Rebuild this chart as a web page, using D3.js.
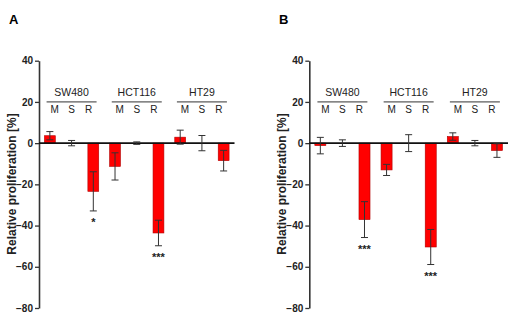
<!DOCTYPE html>
<html>
<head>
<meta charset="utf-8">
<script src="https://d3js.org/d3.v7.min.js"></script>
<style>
  body { margin: 0; background: #fff; }
  text { font-family: Arial, "Liberation Sans", sans-serif; }
</style>
</head>
<body>
<svg id="drawing_region"></svg>
<script>
const cellLines = ['SW480', 'HCT116', 'HT29'];
const treatments = ['M', 'S', 'R'];
const yTicks = [40, 20, 0, -20, -40, -60, -80];

// panel A
const meanA = [3.6, 0, -23.4, -11.3, 0, -43.6, 2.9, 0, -8.5];
const errA  = [2.0, 1.3, 9.5, 6.6, 0.6, 6.2, 3.4, 3.7, 5.0];
const starsA = ['', '', '*', '', '', '***', '', '', ''];

// panel B
const meanB = [-1.2, 0, -37.1, -13.0, 0, -50.4, 3.2, 0, -3.6];
const errB  = [4.0, 1.6, 8.7, 2.7, 4.1, 8.5, 1.8, 1.3, 3.3];
const starsB = ['', '', '***', '', '', '***', '', '', ''];

const svg = d3.select('#drawing_region')
    .attr('width', 521)
    .attr('height', 336);

class BarPanel {
    constructor(config, means, errs, stars) {
        this.config = config;
        this.data = means.map((m, i) => ({
            key: cellLines[Math.floor(i / 3)] + '_' + treatments[i % 3],
            line: cellLines[Math.floor(i / 3)],
            treat: treatments[i % 3],
            mean: m,
            err: errs[i],
            star: stars[i]
        }));
        this.init();
    }

    init() {
        let self = this;
        const c = self.config;

        self.g = svg.append('g');

        self.yscale = d3.scaleLinear()
            .domain([-80, 40])
            .range([308, 60.7]);

        self.xscale = d3.scaleBand()
            .domain(self.data.map(d => d.key))
            .range([c.x0, c.x1])
            .paddingInner(0.5)
            .paddingOuter(0.25);

        self.yaxis = d3.axisLeft(self.yscale)
            .tickValues(yTicks)
            .tickSize(4)
            .tickSizeOuter(0)
            .tickPadding(2);
    }

    render() {
        let self = this;
        const c = self.config;
        const y = self.yscale, x = self.xscale;
        const bw = x.bandwidth();
        const cx = d => x(d.key) + bw / 2;

        // panel letter
        self.g.append('text')
            .attr('x', c.titleX)
            .attr('y', 24)
            .attr('font-size', 13)
            .attr('font-weight', 'bold')
            .text(c.title);

        // y axis
        const ya = self.g.append('g')
            .attr('transform', `translate(${c.x0}, 0)`)
            .call(self.yaxis);
        ya.select('.domain').attr('stroke', '#333').attr('stroke-width', 1.6);
        ya.selectAll('.tick line').attr('stroke', '#333').attr('stroke-width', 1.3);
        ya.selectAll('.tick text')
            .attr('font-size', 10)
            .attr('font-weight', 'bold')
            .attr('font-family', 'Arial, "Liberation Sans", sans-serif')
            .attr('fill', '#222');

        // y label
        self.g.append('text')
            .attr('transform', `translate(${c.labelX}, 184) rotate(-90)`)
            .attr('text-anchor', 'middle')
            .attr('font-size', 12)
            .attr('font-weight', 'bold')
            .attr('fill', '#222')
            .text('Relative proliferation [%]');

        // bars
        self.g.selectAll('rect.bar')
            .data(self.data)
            .join('rect')
            .attr('class', 'bar')
            .attr('x', d => x(d.key))
            .attr('width', bw)
            .attr('y', d => y(Math.max(0, d.mean)))
            .attr('height', d => Math.abs(y(d.mean) - y(0)))
            .attr('fill', '#ff0000')
            .attr('stroke', '#b00000')
            .attr('stroke-width', 0.6);

        // zero line
        self.g.append('line')
            .attr('x1', c.x0).attr('x2', c.x1)
            .attr('y1', y(0)).attr('y2', y(0))
            .attr('stroke', '#111')
            .attr('stroke-width', 1.6);

        // error bars
        const eb = self.g.selectAll('g.err')
            .data(self.data)
            .join('g')
            .attr('class', 'err')
            .attr('stroke', '#333')
            .attr('stroke-width', 1);
        eb.append('line')
            .attr('x1', cx).attr('x2', cx)
            .attr('y1', d => y(d.mean + d.err))
            .attr('y2', d => y(d.mean - d.err));
        eb.append('line')
            .attr('x1', d => cx(d) - 3.5).attr('x2', d => cx(d) + 3.5)
            .attr('y1', d => y(d.mean + d.err))
            .attr('y2', d => y(d.mean + d.err));
        eb.append('line')
            .attr('x1', d => cx(d) - 3.5).attr('x2', d => cx(d) + 3.5)
            .attr('y1', d => y(d.mean - d.err))
            .attr('y2', d => y(d.mean - d.err));

        // significance stars
        self.g.selectAll('text.star')
            .data(self.data.filter(d => d.star))
            .join('text')
            .attr('class', 'star')
            .attr('x', cx)
            .attr('y', d => y(d.mean - d.err) + 15)
            .attr('text-anchor', 'middle')
            .attr('font-size', 11)
            .attr('font-weight', 'bold')
            .attr('fill', '#222')
            .text(d => d.star);

        // group headers
        const mid = self.data.filter(d => d.treat === 'S');
        self.g.selectAll('text.grp')
            .data(mid)
            .join('text')
            .attr('class', 'grp')
            .attr('x', cx)
            .attr('y', 96)
            .attr('text-anchor', 'middle')
            .attr('font-size', 10.5)
            .attr('fill', '#222')
            .text(d => d.line);
        self.g.selectAll('line.grp')
            .data(mid)
            .join('line')
            .attr('class', 'grp')
            .attr('x1', d => cx(d) - 25).attr('x2', d => cx(d) + 25)
            .attr('y1', y(20)).attr('y2', y(20))
            .attr('stroke', '#333')
            .attr('stroke-width', 1);
        const offs = { M: -17, S: 0, R: 17 };
        self.g.selectAll('text.trt')
            .data(self.data)
            .join('text')
            .attr('class', 'trt')
            .attr('x', d => x(d.line + '_S') + bw / 2 + offs[d.treat])
            .attr('y', 113)
            .attr('text-anchor', 'middle')
            .attr('font-size', 10)
            .attr('fill', '#222')
            .text(d => d.treat);
    }
}

const panelA = new BarPanel({ title: 'A', titleX: 9, labelX: 16, x0: 39, x1: 234.5 }, meanA, errA, starsA);
panelA.render();

const panelB = new BarPanel({ title: 'B', titleX: 279, labelX: 286, x0: 309.3, x1: 508 }, meanB, errB, starsB);
panelB.render();
</script>
</body>
</html>
